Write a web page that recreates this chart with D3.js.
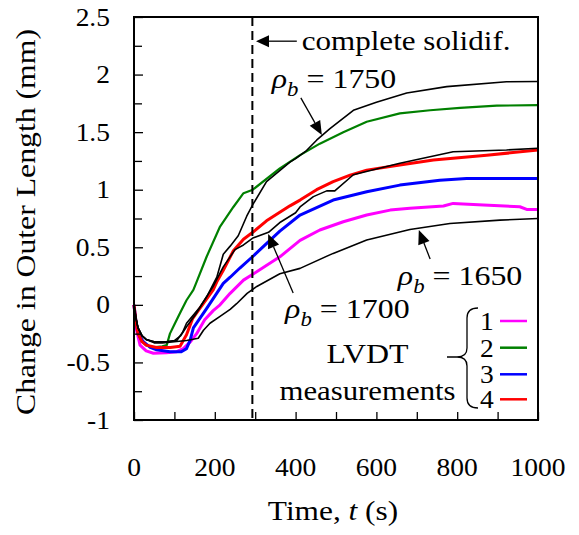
<!DOCTYPE html>
<html>
<head>
<meta charset="utf-8">
<script src="https://cdn.jsdelivr.net/npm/d3@7"></script>
<style>
  html, body { margin: 0; padding: 0; background: #fff; }
  svg { display: block; }
</style>
</head>
<body>
<svg id="chart" width="579" height="535"></svg>
<script>
// ---------------- DATA ----------------
// Model curves (black), rho_b = 1750, 1700, 1650
const tModel1750 = [0, 5, 10, 20, 30, 50, 80, 100, 115, 130, 155, 180, 205, 221, 238, 258, 279, 294, 328, 386, 400, 427, 452, 485, 543, 600, 675, 774, 922, 1000];
const vModel1750 = [0, -0.12, -0.2, -0.27, -0.3, -0.32, -0.32, -0.31, -0.27, -0.19, -0.07, 0.07, 0.24, 0.44, 0.51, 0.60, 0.77, 0.87, 1.07, 1.24, 1.27, 1.34, 1.43, 1.53, 1.69, 1.76, 1.84, 1.895, 1.938, 1.94];

const tModel1700 = [0, 5, 10, 20, 30, 50, 80, 106, 120, 130, 163, 196, 221, 250, 271, 294, 333, 363, 400, 411, 444, 477, 497, 543, 600, 658, 790, 922, 1000];
const vModel1700 = [0, -0.12, -0.2, -0.27, -0.3, -0.32, -0.32, -0.31, -0.24, -0.16, -0.02, 0.16, 0.33, 0.48, 0.52, 0.58, 0.63, 0.72, 0.80, 0.85, 0.94, 0.99, 0.99, 1.13, 1.18, 1.23, 1.33, 1.345, 1.36];

const tModel1650 = [0, 5, 10, 20, 30, 50, 70, 100, 130, 159, 172, 188, 213, 238, 254, 280, 304, 361, 411, 493, 576, 683, 782, 906, 1000];
const vModel1650 = [0, -0.12, -0.2, -0.27, -0.3, -0.33, -0.33, -0.32, -0.31, -0.29, -0.22, -0.16, -0.10, -0.04, 0.01, 0.10, 0.16, 0.27, 0.317, 0.447, 0.563, 0.655, 0.707, 0.736, 0.75];

// LVDT measurements 1-4
const tLvdt1 = [0, 5, 15, 30, 48, 80, 106, 122, 140, 155, 175, 196, 213, 238, 271, 294, 361, 411, 460, 518, 576, 634, 683, 766, 790, 865, 955, 972, 1000];
const vLvdt1 = [0, -0.2, -0.35, -0.40, -0.42, -0.415, -0.407, -0.38, -0.32, -0.25, -0.13, -0.05, 0.0, 0.1, 0.215, 0.265, 0.417, 0.56, 0.65, 0.722, 0.78, 0.823, 0.838, 0.858, 0.881, 0.867, 0.852, 0.829, 0.829];

const tLvdt2 = [0, 5, 10, 20, 30, 48, 70, 81, 89, 100, 114, 130, 147, 155, 180, 213, 246, 271, 294, 361, 411, 460, 518, 576, 658, 733, 807, 898, 1000];
const vLvdt2 = [0, -0.15, -0.25, -0.32, -0.35, -0.37, -0.36, -0.35, -0.25, -0.17, -0.07, 0.04, 0.13, 0.2, 0.42, 0.68, 0.85, 0.97, 1.0, 1.185, 1.30, 1.40, 1.50, 1.59, 1.663, 1.69, 1.71, 1.73, 1.735];

const tLvdt3 = [0, 5, 10, 23, 40, 56, 89, 117, 130, 139, 147, 180, 221, 238, 262, 294, 312, 361, 411, 493, 576, 658, 757, 823, 1000];
const vLvdt3 = [0, -0.15, -0.25, -0.32, -0.37, -0.39, -0.407, -0.407, -0.38, -0.306, -0.2, -0.03, 0.186, 0.24, 0.32, 0.42, 0.48, 0.64, 0.78, 0.91, 0.982, 1.04, 1.083, 1.098, 1.098];

const tLvdt4 = [0, 5, 10, 20, 30, 56, 90, 114, 130, 145, 163, 196, 205, 221, 246, 271, 294, 328, 386, 411, 452, 493, 535, 576, 658, 741, 873, 1000];
const vLvdt4 = [0, -0.15, -0.25, -0.32, -0.35, -0.37, -0.37, -0.36, -0.26, -0.12, -0.03, 0.13, 0.2, 0.30, 0.47, 0.57, 0.63, 0.73, 0.86, 0.91, 1.0, 1.07, 1.127, 1.17, 1.214, 1.258, 1.30, 1.344];

const xMajorTicks = [0, 200, 400, 600, 800, 1000];
const xMinorTicks = [100, 300, 500, 700, 900];
const yMajorTicks = [-1, -0.5, 0, 0.5, 1, 1.5, 2, 2.5];
const yMinorTicks = [-0.75, -0.25, 0.25, 0.75, 1.25, 1.75, 2.25];
const yTickLabels = ["-1", "-0.5", "0", "0.5", "1", "1.5", "2", "2.5"];
const legendLabels = ["1", "2", "3", "4"];
const legendColors = ["#ff00ff", "#008000", "#0000ff", "#ff0000"];
const solidifTime = 293;

// ---------------- DRAW ----------------
const FONT = "'Liberation Serif', 'Times New Roman', Tinos, serif";
const svg = d3.select("#chart");
svg.append("rect").attr("width", 579).attr("height", 535).attr("fill", "#fff");

const mLeft = 134, mRight = 538, mTop = 17, mBottom = 420;
const x = d3.scaleLinear().domain([0, 1000]).range([mLeft, mRight]);
const y = d3.scaleLinear().domain([-1, 2.5]).range([mBottom, mTop]);

function label(parent, px, py, str, opts = {}) {
  const g = parent.append("g")
    .attr("transform", `translate(${px},${py}) rotate(${opts.rotate || 0}) scale(${opts.sx || 1.14},1)`);
  const t = g.append("text")
    .attr("x", 0).attr("y", 0)
    .attr("font-family", FONT)
    .attr("fill", "#000")
    .attr("font-size", opts.size || 28)
    .attr("text-anchor", opts.anchor || "start");
  if (str !== null) t.text(str);
  return t;
}

function rhoLabel(px, py, val) {
  const t = label(svg, px, py, null, {});
  t.append("tspan").attr("font-style", "italic").text("ρ");
  t.append("tspan").attr("font-style", "italic").attr("font-size", 20).attr("dy", 8).text("b");
  t.append("tspan").attr("dy", -8).text(" = " + val);
}

function arrow(x1, y1, x2, y2, headLen = 14, headW = 6) {
  const dx = x2 - x1, dy = y2 - y1, L = Math.hypot(dx, dy);
  const ux = dx / L, uy = dy / L;
  const bx = x2 - ux * headLen, by = y2 - uy * headLen;
  svg.append("line").attr("x1", x1).attr("y1", y1).attr("x2", bx).attr("y2", by)
    .attr("stroke", "#000").attr("stroke-width", 1.3);
  svg.append("polygon")
    .attr("points", `${x2},${y2} ${bx - uy * headW},${by + ux * headW} ${bx + uy * headW},${by - ux * headW}`)
    .attr("fill", "#000");
}

const line = d3.line().x(d => x(d[0])).y(d => y(d[1]));
const zip = (a, b) => a.map((t, i) => [t, b[i]]);

const plot = svg.append("g");
const series = [
  { t: tLvdt1, v: vLvdt1, c: legendColors[0], w: 3 },
  { t: tLvdt2, v: vLvdt2, c: legendColors[1], w: 2.2 },
  { t: tLvdt3, v: vLvdt3, c: legendColors[2], w: 3 },
  { t: tLvdt4, v: vLvdt4, c: legendColors[3], w: 3 },
  { t: tModel1650, v: vModel1650, c: "#000", w: 1.6 },
  { t: tModel1700, v: vModel1700, c: "#000", w: 1.6 },
  { t: tModel1750, v: vModel1750, c: "#000", w: 1.6 }
];
series.forEach(s => {
  plot.append("path").datum(zip(s.t, s.v)).attr("d", line)
    .attr("fill", "none").attr("stroke", s.c).attr("stroke-width", s.w)
    .attr("stroke-linejoin", "round");
});

// dashed complete-solidification line
svg.append("line")
  .attr("x1", x(solidifTime)).attr("x2", x(solidifTime))
  .attr("y1", y(2.5)).attr("y2", y(-1))
  .attr("stroke", "#000").attr("stroke-width", 2).attr("stroke-dasharray", "9,5");

// axes (inward ticks)
const xAxis = d3.axisBottom(x).tickValues(xMajorTicks).tickSize(-8).tickFormat("");
const xAxisMinor = d3.axisBottom(x).tickValues(xMinorTicks).tickSize(-8).tickFormat("");
const yAxis = d3.axisLeft(y).tickValues(yMajorTicks).tickSize(-9).tickFormat("");
const yAxisMinor = d3.axisLeft(y).tickValues(yMinorTicks).tickSize(-8).tickFormat("");
[xAxis, xAxisMinor].forEach(a => {
  const g = svg.append("g").attr("transform", `translate(0,${mBottom})`).call(a);
  g.select(".domain").remove();
  g.selectAll("line").attr("stroke", "#000").attr("stroke-width", 1.3);
});
[yAxis, yAxisMinor].forEach(a => {
  const g = svg.append("g").attr("transform", `translate(${mLeft},0)`).call(a);
  g.select(".domain").remove();
  g.selectAll("line").attr("stroke", "#000").attr("stroke-width", 1.3);
});

// frame
svg.append("rect").attr("x", mLeft).attr("y", mTop)
  .attr("width", mRight - mLeft).attr("height", mBottom - mTop)
  .attr("fill", "none").attr("stroke", "#000").attr("stroke-width", 2);

// tick labels
xMajorTicks.forEach(v => label(svg, x(v), 476, String(v), { anchor: "middle", size: 25, sx: 1.1 }));
yMajorTicks.forEach((v, i) => label(svg, 110, y(v) + 8.5, yTickLabels[i], { anchor: "end", size: 25, sx: 1.1 }));

// axis titles
const xt = label(svg, 333, 520, null, { anchor: "middle", size: 27.5, sx: 1.14 });
xt.append("tspan").text("Time, ");
xt.append("tspan").attr("font-style", "italic").text("t");
xt.append("tspan").text(" (s)");
label(svg, 35, 222, "Change in Outer Length (mm)", { anchor: "middle", rotate: -90, size: 27.5, sx: 1.155 });

// annotations
arrow(x(403), y(2.29), x(302), y(2.29), 13, 6);
label(svg, x(415), y(2.213), "complete solidif.", { sx: 1.11 });

rhoLabel(x(341), y(1.883), "1750");
arrow(x(413), y(1.797), x(465), y(1.475));

rhoLabel(x(374), y(-0.114), "1700");
arrow(x(394), y(0.103), x(332), y(0.615));

rhoLabel(x(653), y(0.172), "1650");
arrow(x(733), y(0.398), x(705), y(0.65));

label(svg, x(578), y(-0.505), "LVDT", { anchor: "middle" });
label(svg, x(578), y(-0.826), "measurements", { anchor: "middle", size: 27.5, sx: 1.12 });

// legend with brace
const legBaseY = [330, 356.7, 383.3, 408.3];
legendLabels.forEach((lab, i) => {
  label(svg, 480, legBaseY[i], lab, { size: 25, sx: 1.1 });
  svg.append("line").attr("x1", 500).attr("x2", 527)
    .attr("y1", legBaseY[i] - 9).attr("y2", legBaseY[i] - 9)
    .attr("stroke", legendColors[i]).attr("stroke-width", 2.5);
});
svg.append("path")
  .attr("d", "M478,308 Q467,308 467,318 L467,348 Q467,357 457,357 L447,357 M457,357 Q467,357 467,366 L467,398 Q467,408 478,408")
  .attr("fill", "none").attr("stroke", "#000").attr("stroke-width", 1.3);
</script>
</body>
</html>
